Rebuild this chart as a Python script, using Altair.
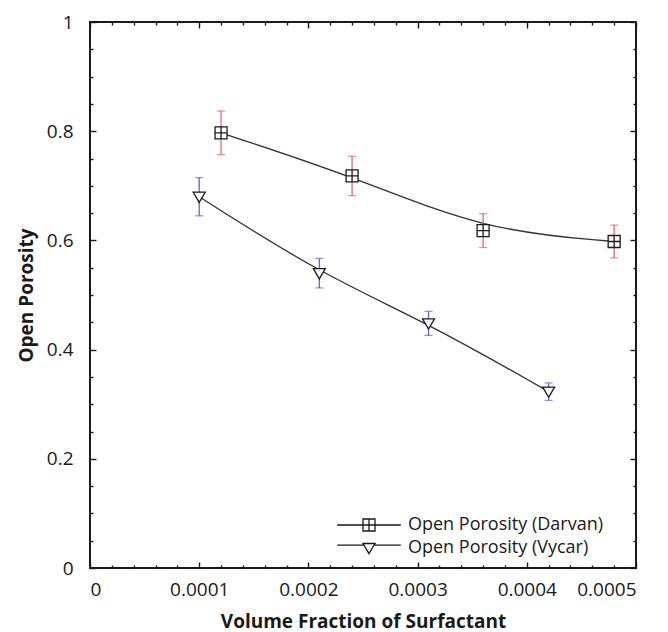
import altair as alt
import pandas as pd

series_names = ["Open Porosity (Darvan)", "Open Porosity (Vycar)"]

darvan_x = [0.00012, 0.00024, 0.00036, 0.00048]
darvan_y = [0.797, 0.718, 0.618, 0.598]
darvan_err = [0.040, 0.036, 0.031, 0.030]

vycar_x = [0.00010, 0.00021, 0.00031, 0.00042]
vycar_y = [0.680, 0.540, 0.448, 0.323]
vycar_err = [0.035, 0.027, 0.022, 0.016]

x_major = [0, 0.0001, 0.0002, 0.0003, 0.0004, 0.0005]
x_minor = [0.00002, 0.00004, 0.00006, 0.00008, 0.00012, 0.00014, 0.00016, 0.00018,
           0.00022, 0.00024, 0.00026, 0.00028, 0.00032, 0.00034, 0.00036, 0.00038,
           0.00042, 0.00044, 0.00046, 0.00048]
y_major = [0, 0.2, 0.4, 0.6, 0.8, 1.0]
y_minor = [0.05, 0.1, 0.15, 0.25, 0.3, 0.35, 0.45, 0.5, 0.55, 0.65, 0.7, 0.75,
           0.85, 0.9, 0.95]

rows = []
for name, xs_, ys_, es_ in [(series_names[0], darvan_x, darvan_y, darvan_err),
                            (series_names[1], vycar_x, vycar_y, vycar_err)]:
    for xv, yv, ev in zip(xs_, ys_, es_):
        rows.append({"series": name, "x": xv, "y": yv, "lo": yv - ev, "hi": yv + ev})
df = pd.DataFrame(rows)

FONT = "Open Sans"
INK = "#1a1a1a"

xscale = alt.Scale(domain=[0, 0.0005], nice=False, zero=False)
yscale = alt.Scale(domain=[0, 1], nice=False, zero=False)
cscale = alt.Scale(domain=series_names, range=["#e06a6a", "#6262dc"])

marker_paths = ["M-1,-1H1V1H-1Z M0,-1V1 M-1,0H1",
                "M-1,-0.75L1,-0.75L0,0.95Z"]
legend_paths = ["M-5.3,0H-1 M1,0H5.3 M-1,-1H1V1H-1Z M0,-1V1 M-1,0H1",
                "M-5.3,-0.47H-0.84 M0.84,-0.47H5.3 M-1,-0.75L1,-0.75L0,0.95Z"]


def tick_axis(orient, values, size, **kw):
    return alt.Axis(orient=orient, values=values, tickSize=size, offset=-size,
                    domain=False, grid=False, tickColor=INK, tickWidth=1.4, **kw)


x_bottom = tick_axis("bottom", x_major, 6, labels=True, format=".4~f",
                     labelFont=FONT, labelFontSize=19, labelColor=INK, labelPadding=12,
                     title="Volume Fraction of Surfactant", titleFont=FONT,
                     titleFontSize=19, titleFontWeight="bold", titleColor=INK,
                     titlePadding=13)
y_left = tick_axis("left", y_major, 6, labels=True, format=".1~f",
                   labelFont=FONT, labelFontSize=19, labelColor=INK, labelPadding=17,
                   title="Open Porosity", titleFont=FONT, titleFontSize=19,
                   titleFontWeight="bold", titleColor=INK, titlePadding=10)
x_bottom_minor = tick_axis("bottom", x_minor, 3, labels=False, title=None)
y_left_minor = tick_axis("left", y_minor, 3, labels=False, title=None)
x_top = tick_axis("top", x_major, 6, labels=False, title=None)
y_right = tick_axis("right", y_major, 6, labels=False, title=None)
x_top_minor = tick_axis("top", x_minor, 3, labels=False, title=None)
y_right_minor = tick_axis("right", y_minor, 3, labels=False, title=None)

base = alt.Chart(df)

lines = base.mark_line(interpolate="basis", color="#333333", strokeWidth=1.3).encode(
    x=alt.X("x:Q", scale=xscale, axis=x_bottom),
    y=alt.Y("y:Q", scale=yscale, axis=y_left),
    detail="series:N",
)

bars = base.mark_rule(strokeWidth=1.3).encode(
    x=alt.X("x:Q", scale=xscale, axis=x_bottom_minor),
    y=alt.Y("lo:Q", scale=yscale, axis=y_left_minor),
    y2="hi:Q",
    color=alt.Color("series:N", scale=cscale, legend=None),
)

caps = base.transform_fold(["lo", "hi"], as_=["end", "yv"]).mark_tick(
    orient="horizontal", size=8, thickness=1.3).encode(
    x=alt.X("x:Q", scale=xscale, axis=x_top),
    y=alt.Y("yv:Q", scale=yscale, axis=y_right),
    color=alt.Color("series:N", scale=cscale, legend=None),
)

points = base.mark_point(filled=True, fill="white", stroke=INK, strokeWidth=1.3,
                         size=144, opacity=1).encode(
    x=alt.X("x:Q", scale=xscale, axis=x_top_minor),
    y=alt.Y("y:Q", scale=yscale, axis=y_right_minor),
    shape=alt.Shape("series:N", scale=alt.Scale(domain=series_names, range=marker_paths),
                    legend=None),
)

legend_layer = base.transform_filter("false").mark_point(
    filled=False, color=INK, strokeWidth=1.3, size=144, opacity=1).encode(
    x=alt.X("x:Q", scale=xscale, axis=None),
    y=alt.Y("y:Q", scale=yscale, axis=None),
    shape=alt.Shape("series:N", scale=alt.Scale(domain=series_names, range=legend_paths),
                    legend=alt.Legend(orient="none", legendX=270, legendY=494, title=None,
                                      labelFont=FONT, labelFontSize=18, labelColor=INK,
                                      labelOffset=30, labelLimit=400, symbolSize=144,
                                      symbolStrokeWidth=1.3, symbolStrokeColor=INK,
                                      rowPadding=5, padding=0)),
)

chart = alt.layer(lines, bars, caps, points, legend_layer).resolve_axis(
    x="independent", y="independent"
).resolve_scale(shape="independent").properties(
    width=546, height=546,
    autosize=alt.AutoSizeParams(type="none"),
    padding={"left": 90, "top": 22, "right": 32, "bottom": 64},
    background="white",
).configure_view(stroke=INK, strokeWidth=2)

chart.save("out.html", embed_options={"renderer": "svg", "actions": False})
